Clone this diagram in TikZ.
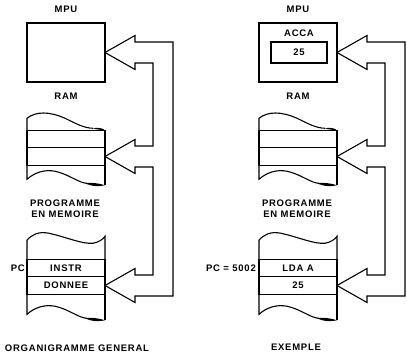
\documentclass[tikz,border=0pt]{standalone}
\usepackage{fontspec}
\setmainfont{Liberation Sans}[LetterSpace=8]
\usetikzlibrary{positioning}

\begin{document}
\begin{tikzpicture}[
    x=1pt, y=-1pt,
    every node/.style={font=\fontsize{9.5}{11.5}\selectfont\bfseries, inner sep=0pt},
    thinline/.style={line width=1.1pt},
    cell/.style={draw, line width=1.1pt, minimum width=78pt, minimum height=17.5pt, outer sep=0pt},
    cpu/.style={draw, line width=1.1pt, minimum width=78pt, minimum height=59pt, outer sep=0pt},
    reg/.style={draw, line width=1.1pt, minimum width=56pt, minimum height=21pt, outer sep=0pt},
    pipe/.style={line width=1.1pt, line join=miter},
    pics/ram top/.style={code={
        \draw[thinline] (0,0) -- (0,-12) .. controls (9,-19) and (22,-19) .. (38,-12)
              .. controls (50,-6) and (58,-2) .. (66,-2);
        \fill (66,-2) .. controls (71,-3) and (76,-2) .. (78,0)
              .. controls (73,-0.5) and (70,-0.5) .. (66,-2) -- cycle;
    }},
    pics/prog top/.style={code={
        \draw[thinline] (0,0) -- (0,-19) .. controls (5,-25) and (12,-28) .. (22,-26)
              .. controls (40,-22) and (55,-15) .. (66,-16)
              .. controls (72,-17) and (76,-20) .. (78,-23) -- (78,0);
    }},
    pics/tear bottom/.style={code={
        \draw[thinline] (0,0) -- (0,#1) .. controls (8,{#1-7}) and (18,{#1-10}) .. (28,{#1-8})
              .. controls (42,{#1-5}) and (52,{#1+4}) .. (60,{#1+4});
        \fill (58,{#1+4}) .. controls (66,{#1+8}) and (74,{#1+7}) .. (78,{#1+6})
              .. controls (72,{#1+4}) and (64,{#1+3}) .. (58,{#1+4}) -- cycle;
        \draw[thinline] (78,0) -- (78,{#1+6});
    }}
]
\useasboundingbox (0,0) rectangle (407,355);

% organigramme general
\node[cpu] (mpuA) at (66,52.5) {};
\node[above=10pt of mpuA] (mpuAlab) {MPU};
\node[cell] (ramA1) at (66,139) {};
\node[cell, below=0pt of ramA1] (ramA2) {};
\node[below=11pt of mpuA] (ramAlab) {RAM};
\node[cell] (progA1) at (66,268) {INSTR};
\node[cell, below=0pt of progA1] (progA2) {DONNEE};
\node[align=center] (progAlab) at (65,208.5) {PROGRAMME\\EN MEMOIRE};
\node[left=2pt of progA1] (pcA) {PC};
\node (titleA) at (77,348) {ORGANIGRAMME GENERAL};

\pic at (ramA1.north west) {ram top};
\pic at (ramA2.south west) {tear bottom=14};
\pic at (progA1.north west) {prog top};
\pic at (progA2.south west) {tear bottom=20};

\draw[pipe] (mpuA.east) -- ++(30,17) -- ++(0,-6.5) -- ++(18,0)
    |- ([shift={(30,-10.5)}]ramA2.east) -- ++(0,-6.5) -- (ramA2.east);
\draw[pipe] (ramA2.east) -- ++(30,17) -- ++(0,-6.5) -- ++(18,0)
    |- ([shift={(30,-10.5)}]progA2.east) -- ++(0,-6.5) -- (progA2.east);
\draw[pipe] (mpuA.east) -- ++(30,-17) -- ++(0,6.5) -- ++(38,0)
    |- ([shift={(30,10.5)}]progA2.east) -- ++(0,6.5) -- (progA2.east);

% exemple
\node[cpu] (mpuB) at (298,52.5) {};
\node[above=10pt of mpuB] (mpuBlab) {MPU};
\node[reg] (regB) at (299,52.5) {25};
\node[above=5pt of regB] (accB) {ACCA};
\node[cell] (ramB1) at (298,139) {};
\node[cell, below=0pt of ramB1] (ramB2) {};
\node[below=11pt of mpuB] (ramBlab) {RAM};
\node[cell] (progB1) at (298,268) {LDA A};
\node[cell, below=0pt of progB1] (progB2) {25};
\node[align=center] (progBlab) at (297,208.5) {PROGRAMME\\EN MEMOIRE};
\node[left=3pt of progB1] (pcB) {PC = 5002};
\node (titleB) at (296,347) {EXEMPLE};

\pic at (ramB1.north west) {ram top};
\pic at (ramB2.south west) {tear bottom=14};
\pic at (progB1.north west) {prog top};
\pic at (progB2.south west) {tear bottom=20};

\draw[pipe] (mpuB.east) -- ++(30,17) -- ++(0,-6.5) -- ++(18,0)
    |- ([shift={(30,-10.5)}]ramB2.east) -- ++(0,-6.5) -- (ramB2.east);
\draw[pipe] (ramB2.east) -- ++(30,17) -- ++(0,-6.5) -- ++(18,0)
    |- ([shift={(30,-10.5)}]progB2.east) -- ++(0,-6.5) -- (progB2.east);
\draw[pipe] (mpuB.east) -- ++(30,-17) -- ++(0,6.5) -- ++(38,0)
    |- ([shift={(30,10.5)}]progB2.east) -- ++(0,6.5) -- (progB2.east);
\end{tikzpicture}
\end{document}
